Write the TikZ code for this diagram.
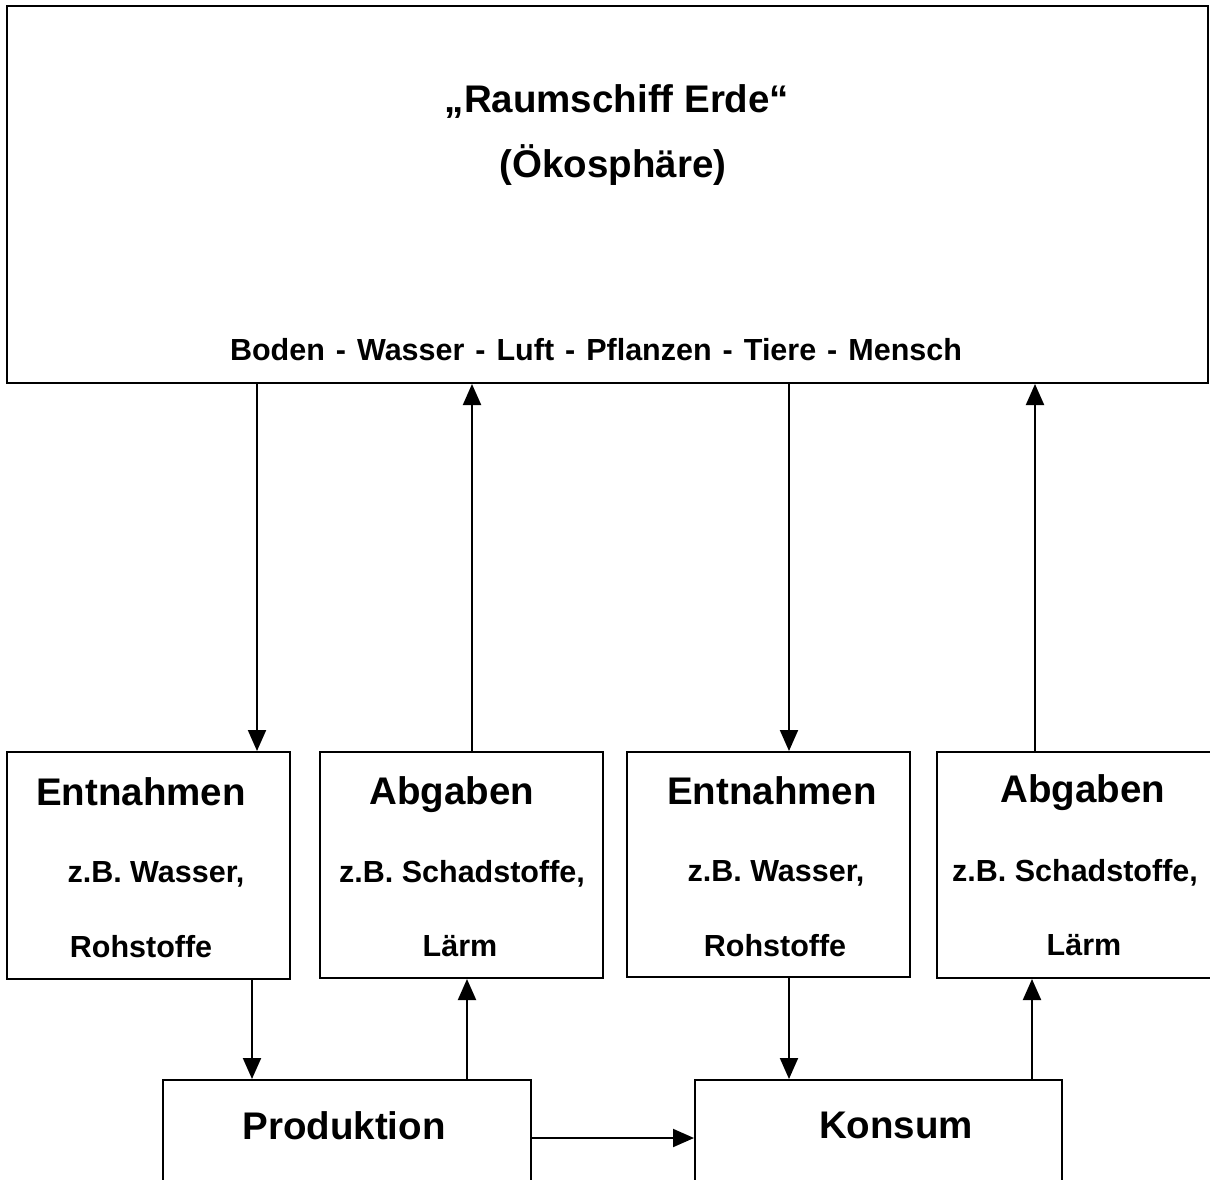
\documentclass[tikz,border=0pt]{standalone}
\usepackage{fontspec}
\setmainfont{Liberation Sans}
\usetikzlibrary{arrows.meta}
\tikzset{
  box/.style={draw, line width=2pt, rectangle, inner sep=0pt},
  flow/.style={line width=2pt, -{Triangle[length=21pt,width=18pt]}},
  big/.style={font=\fontsize{38.5}{42}\selectfont\bfseries, inner sep=0pt, anchor=base},
  mid/.style={font=\fontsize{30.5}{33}\selectfont\bfseries, inner sep=0pt, anchor=base},
  ttl/.style={font=\fontsize{38.5}{42}\selectfont\bfseries, inner sep=0pt, anchor=base},
}
\begin{document}
\begin{tikzpicture}[x=1pt,y=-1pt]
\useasboundingbox (0,0) rectangle (1210,1180);
\clip (0,0) rectangle (1210,1180);
\fill[white] (0,0) rectangle (1210,1180);
% boxes
\node[box, minimum width=1201pt, minimum height=377pt] (top) at (607.5,194.5) {};
\node[box, minimum width=283pt, minimum height=227pt] (e1) at (148.5,865.5) {};
\node[box, minimum width=283pt, minimum height=226pt] (a1) at (461.5,865) {};
\node[box, minimum width=283pt, minimum height=225pt] (e2) at (768.5,864.5) {};
\node[box, minimum width=286pt, minimum height=226pt] (a2) at (1080,865) {};
\node[box, minimum width=368pt, minimum height=130pt] (prod) at (347,1145) {};
\node[box, minimum width=367pt, minimum height=130pt] (kons) at (878.5,1145) {};
% texts
\node[ttl] (t1) at (617,113) {„Raumschiff Erde“};
\node[ttl] (t2) at (613,178) {(Ökosphäre)};
\node[mid, font=\fontsize{30.5}{33}\selectfont\bfseries] (t3) at (596,360) {\spaceskip=11pt\relax Boden - Wasser - Luft - Pflanzen - Tiere - Mensch};
\node[big] (e1a) at (141,805) {Entnahmen};
\node[mid] (e1b) at (156,882) {z.B. Wasser,};
\node[mid] (e1c) at (141,957) {Rohstoffe};
\node[big] (a1a) at (452,804) {Abgaben};
\node[mid] (a1b) at (462,882) {z.B. Schadstoffe,};
\node[mid] (a1c) at (460,956) {Lärm};
\node[big] (e2a) at (772,804) {Entnahmen};
\node[mid] (e2b) at (776,881) {z.B. Wasser,};
\node[mid] (e2c) at (775,956) {Rohstoffe};
\node[big] (a2a) at (1083,802) {Abgaben};
\node[mid] (a2b) at (1075,881) {z.B. Schadstoffe,};
\node[mid] (a2c) at (1084,955) {Lärm};
\node[big] (pt) at (344,1139) {Produktion};
\node[big] (kt) at (896,1138) {Konsum};
% x positions of connectors
\coordinate (x1) at (257,0);
\coordinate (x2) at (472,0);
\coordinate (x3) at (789,0);
\coordinate (x4) at (1035,0);
\coordinate (x5) at (252,0);
\coordinate (x6) at (467,0);
\coordinate (x7) at (789,0);
\coordinate (x8) at (1032,0);
\coordinate (yh) at (0,1138);
% connectors
\draw[flow] (top.south -| x1) -- (e1.north -| x1);
\draw[flow] (a1.north -| x2) -- (top.south -| x2);
\draw[flow] (top.south -| x3) -- (e2.north -| x3);
\draw[flow] (a2.north -| x4) -- (top.south -| x4);
\draw[flow] (e1.south -| x5) -- (prod.north -| x5);
\draw[flow] (prod.north -| x6) -- (a1.south -| x6);
\draw[flow] (e2.south -| x7) -- (kons.north -| x7);
\draw[flow] (kons.north -| x8) -- (a2.south -| x8);
\draw[flow] (prod.east |- yh) -- (kons.west |- yh);
\end{tikzpicture}
\end{document}
